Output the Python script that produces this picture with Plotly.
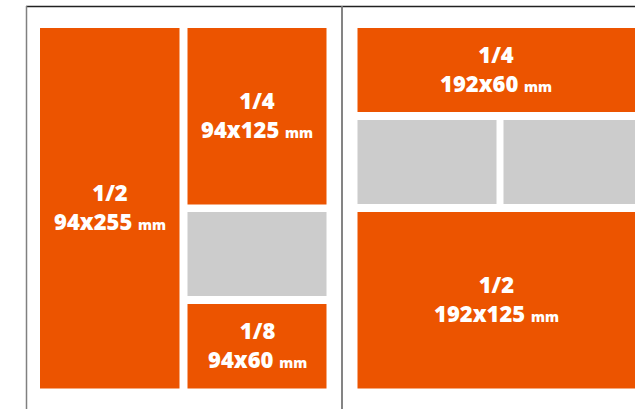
import plotly.graph_objects as go

# Ad formats (labels / sizes)
fractions = ["1/2", "1/4", "1/8", "1/4", "1/2"]
sizes = ["94x255", "94x125", "94x60", "192x60", "192x125"]
unit = "mm"

# Layout diagram geometry (page pixels)
ad_boxes = [  # x0, x1, y0, y1
    (40, 179.5, 28, 388.5),
    (187.5, 326.5, 28, 204.5),
    (187.5, 326.5, 304, 388.5),
    (357.5, 640, 28, 112),
    (357.5, 640, 212, 388.5),
]
free_boxes = [
    (187.5, 326.5, 212, 296),
    (357.5, 496.5, 120, 204),
    (503.5, 640, 120, 204),
]

ORANGE = "#EC5400"
GRAY = "#CCCCCC"

fig = go.Figure()
shapes = []
for (x0, x1, y0, y1) in ad_boxes:
    shapes.append(dict(type="rect", x0=x0, x1=x1, y0=y0, y1=y1,
                       fillcolor=ORANGE, line=dict(width=0), layer="below"))
for (x0, x1, y0, y1) in free_boxes:
    shapes.append(dict(type="rect", x0=x0, x1=x1, y0=y0, y1=y1,
                       fillcolor=GRAY, line=dict(width=0), layer="below"))
# page frame lines
shapes.append(dict(type="line", x0=26, x1=640, y0=6.5, y1=6.5,
                   line=dict(color="#222222", width=1.5)))
shapes.append(dict(type="line", x0=26.5, x1=26.5, y0=6, y1=412,
                   line=dict(color="#808080", width=1.5)))
shapes.append(dict(type="line", x0=342, x1=342, y0=6, y1=412,
                   line=dict(color="#777777", width=1.8)))

annotations = []
for (x0, x1, y0, y1), fr, sz in zip(ad_boxes, fractions, sizes):
    cx = (x0 + min(x1, 635)) / 2
    cy = (y0 + y1) / 2
    annotations.append(dict(
        x=cx, y=cy, xref="x", yref="y", showarrow=False, yshift=2,
        text=f"{fr}<br>{sz} <span style='font-size:14px'>{unit}</span>",
        font=dict(family="Open Sans", size=22, color="white", weight=800),
        align="center", xanchor="center", yanchor="middle"))

fig.update_layout(
    width=635, height=409,
    margin=dict(l=0, r=0, t=0, b=0),
    paper_bgcolor="white", plot_bgcolor="white",
    xaxis=dict(range=[0, 635], visible=False, fixedrange=True),
    yaxis=dict(range=[409, 0], visible=False, fixedrange=True),
    shapes=shapes, annotations=annotations, showlegend=False,
)
fig.write_html(
    "out.html",
    config={"displayModeBar": False},
    post_script="document.body.style.margin='0';document.body.style.overflow='hidden';",
)
